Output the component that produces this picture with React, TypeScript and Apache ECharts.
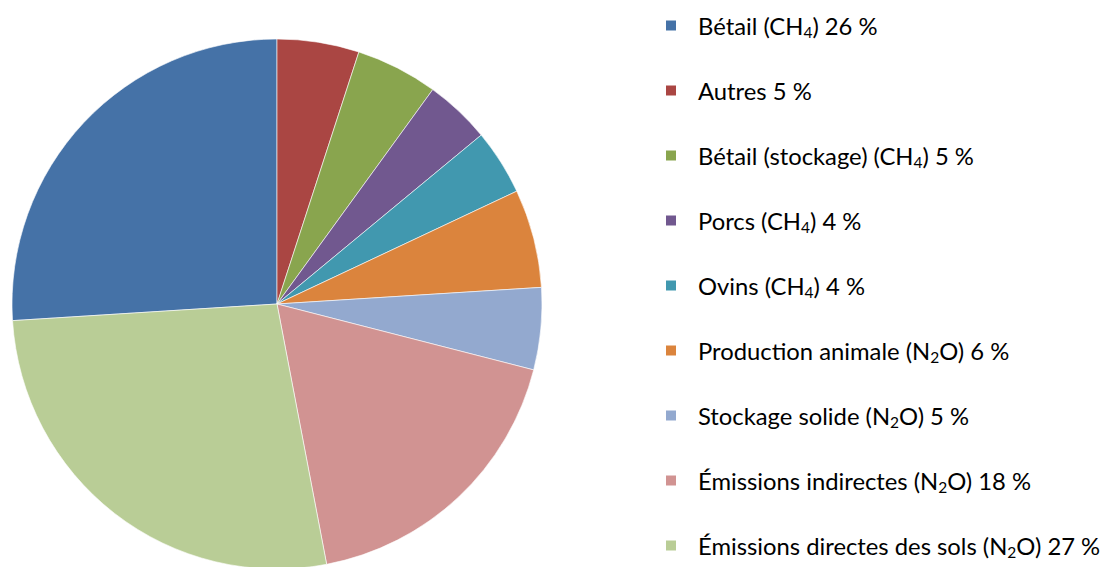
import React, { useEffect, useRef } from "react";
import * as echarts from "echarts";

const categories = [
  "Bétail (CH₄)",
  "Autres",
  "Bétail (stockage) (CH₄)",
  "Porcs (CH₄)",
  "Ovins (CH₄)",
  "Production animale (N₂O)",
  "Stockage solide (N₂O)",
  "Émissions indirectes (N₂O)",
  "Émissions directes des sols (N₂O)",
];
const values = [26, 5, 5, 4, 4, 6, 5, 18, 27];
const colors = [
  "#4572A7",
  "#AA4643",
  "#89A54E",
  "#71588F",
  "#4198AF",
  "#DB843D",
  "#93A9CF",
  "#D19392",
  "#B9CD96",
];

const toRich = (s: string) =>
  s.replace(/₄/g, "{sub|4}").replace(/₂/g, "{sub|2}");

export default function App() {
  const ref = useRef<HTMLDivElement>(null);
  useEffect(() => {
    if (!ref.current) return;
    const chart = echarts.init(ref.current, undefined, { renderer: "svg" });
    const valueByName: Record<string, number> = {};
    categories.forEach((c, i) => (valueByName[c] = values[i]));
    chart.setOption({
      animation: false,
      backgroundColor: "#ffffff",
      color: colors,
      legend: {
        orient: "vertical",
        left: 664,
        top: 11.5,
        padding: 0,
        itemWidth: 12,
        itemHeight: 12,
        itemGap: 37,
        icon: "rect",
        selectedMode: false,
        data: categories,
        formatter: (name: string) => `${toRich(name)} ${valueByName[name]} %`,
        textStyle: {
          fontFamily: "Lato",
          fontSize: 23.8,
          lineHeight: 28,
          color: "#000",
          padding: [0, 0, 0, 16],
          rich: {
            sub: {
              fontFamily: "Lato",
              fontSize: 15.5,
              lineHeight: 15,
              verticalAlign: "bottom",
              color: "#000",
            },
          },
        },
      },
      series: [
        {
          type: "pie",
          center: [277, 304],
          radius: 265,
          startAngle: 183.6,
          clockwise: true,
          label: { show: false },
          labelLine: { show: false },
          silent: true,
          itemStyle: { borderColor: "#ffffff", borderWidth: 0.6 },
          data: categories.map((c, i) => ({ name: c, value: values[i] })),
        },
      ],
    });
    return () => chart.dispose();
  }, []);
  return (
    <div
      ref={ref}
      style={{ position: "fixed", left: 0, top: 0, width: 1114, height: 567 }}
    />
  );
}
